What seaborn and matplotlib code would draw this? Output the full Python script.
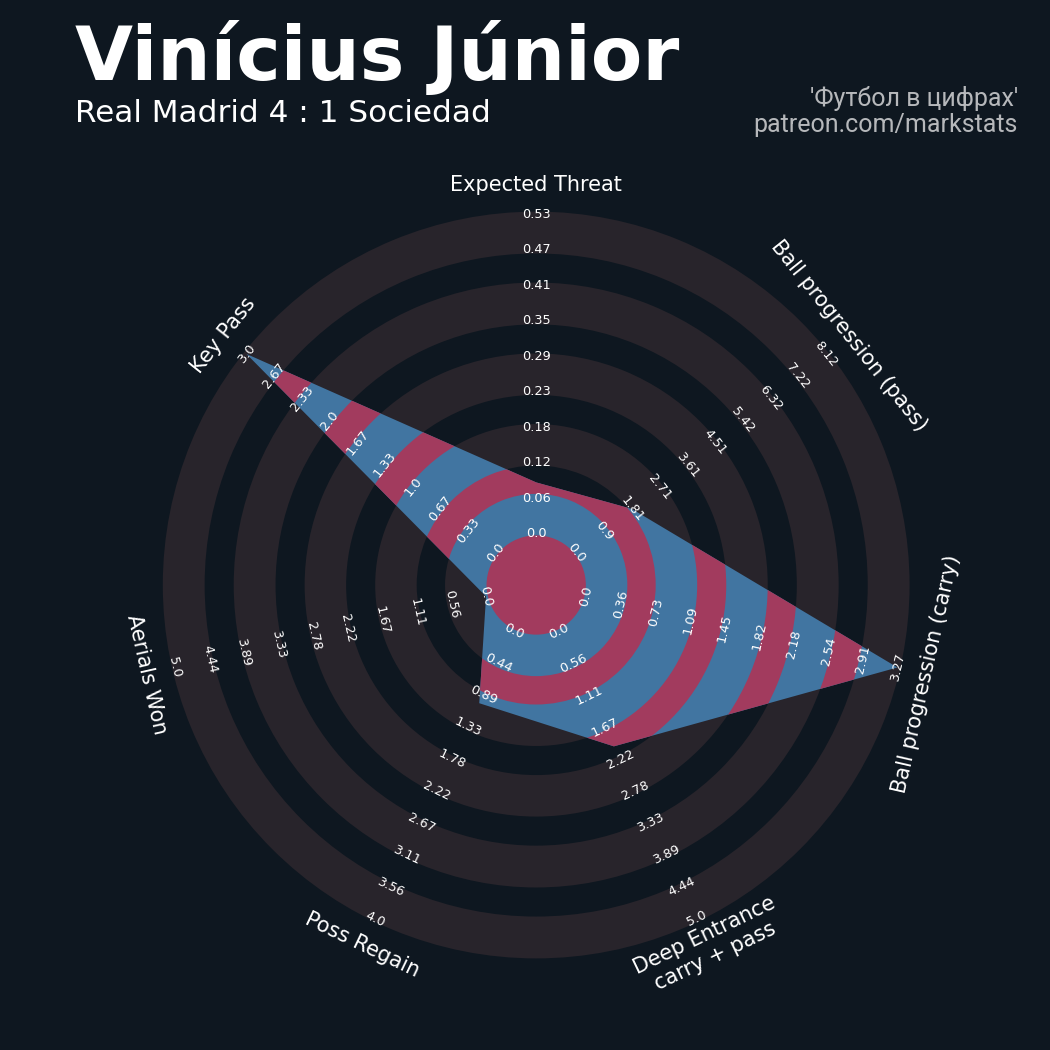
import numpy as np
import matplotlib
matplotlib.use("Agg")
import matplotlib.pyplot as plt
import seaborn as sns
from matplotlib.patches import Wedge, Circle, Polygon

# data
params = ["Expected Threat", "Ball progression (pass)", "Ball progression (carry)",
          "Deep Entrance\ncarry + pass", "Poss Regain", "Aerials Won", "Key Pass"]
player_values = [0.085, 1.8, 3.27, 2.0, 1.0, 0.0, 3.0]

xt_ticks = ["0.0", "0.06", "0.12", "0.18", "0.23", "0.29", "0.35", "0.41", "0.47", "0.53"]
prog_pass_ticks = ["0.0", "0.9", "1.81", "2.71", "3.61", "4.51", "5.42", "6.32", "7.22", "8.12"]
prog_carry_ticks = ["0.0", "0.36", "0.73", "1.09", "1.45", "1.82", "2.18", "2.54", "2.91", "3.27"]
deep_ticks = ["0.0", "0.56", "1.11", "1.67", "2.22", "2.78", "3.33", "3.89", "4.44", "5.0"]
regain_ticks = ["0.0", "0.44", "0.89", "1.33", "1.78", "2.22", "2.67", "3.11", "3.56", "4.0"]
aerial_ticks = ["0.0", "0.56", "1.11", "1.67", "2.22", "2.78", "3.33", "3.89", "4.44", "5.0"]
keypass_ticks = ["0.0", "0.33", "0.67", "1.0", "1.33", "1.67", "2.0", "2.33", "2.67", "3.0"]
tick_labels = [xt_ticks, prog_pass_ticks, prog_carry_ticks, deep_ticks,
               regain_ticks, aerial_ticks, keypass_ticks]

title = "Vinícius Júnior"
subtitle = "Real Madrid 4 : 1 Sociedad"
credit = "'Футбол в цифрах'\npatreon.com/markstats"

# style
bg = "#0e1720"
ring_col = "#28242b"
poly_col = "#4175a1"
inner_col = "#a23b5e"

sns.set_theme(style="dark", rc={"figure.facecolor": bg, "axes.facecolor": bg,
                                "text.color": "white", "savefig.facecolor": bg})
plt.rcParams["font.family"] = ["DejaVu Sans"]

center_r = 1.45      # radius where the range starts
n_steps = 9          # label steps
grey_rings = [(1.40, 2.57), (3.37, 4.54), (5.36, 6.53), (7.35, 8.53), (9.35, 10.53)]
dark_rings = [(2.57, 3.37), (4.54, 5.36), (6.53, 7.35), (8.53, 9.35)]


def text_rot(theta):
    rot = (theta - 90 + 180) % 360 - 180
    if rot < -90:
        rot += 180
    elif rot > 90:
        rot -= 180
    return rot


fig = plt.figure(figsize=(10.5, 10.5), dpi=100)
ax = fig.add_axes([0.1054, 0.0376, 0.8105, 0.8105])
ax.set_xlim(-12, 12)
ax.set_ylim(-12, 12)
ax.set_aspect("equal")
ax.axis("off")

for r0, r1 in grey_rings:
    ax.add_patch(Wedge((0, 0), r1, 0, 360, width=r1 - r0, facecolor=ring_col,
                       edgecolor="none", zorder=1))

n = len(params)
angles = 90 - np.arange(n) * 360 / n
rad = np.deg2rad(angles)
maxes = [float(t[-1]) for t in tick_labels]
radii = [center_r + n_steps * v / m for v, m in zip(player_values, maxes)]
pts = np.column_stack([np.cos(rad) * radii, np.sin(rad) * radii])

poly = Polygon(pts, closed=True, facecolor=poly_col, edgecolor="none", zorder=2)
ax.add_patch(poly)

inner = [Circle((0, 0), grey_rings[0][0])]
for r0, r1 in dark_rings:
    inner.append(Wedge((0, 0), r1, 0, 360, width=r1 - r0))
for p in inner:
    p.set_facecolor(inner_col)
    p.set_edgecolor("none")
    p.set_zorder(3)
    ax.add_patch(p)
    p.set_clip_path(poly)

# range labels
for i in range(n):
    rot = text_rot(angles[i])
    for k, lab in enumerate(tick_labels[i]):
        r = center_r + k
        ax.text(np.cos(rad[i]) * r, np.sin(rad[i]) * r, lab, rotation=rot,
                rotation_mode="anchor", ha="center", va="center",
                fontsize=9.3, color="white", zorder=5)

# parameter labels
for i in range(n):
    r = 11.28
    ax.text(np.cos(rad[i]) * r, np.sin(rad[i]) * r, params[i],
            rotation=text_rot(angles[i]), rotation_mode="anchor",
            ha="center", va="center", fontsize=15, color="white",
            multialignment="center", zorder=5)

fig.text(0.0714, 1 - 80 / 1050, title, fontsize=54, fontweight="bold",
         color="white", ha="left", va="baseline")
fig.text(0.0714, 1 - 122 / 1050, subtitle, fontsize=22.4, color="white",
         ha="left", va="baseline")
fig.text(0.9695, 1 - 132 / 1050, credit, fontsize=18, color="#b6b8bb",
         ha="right", va="baseline", family=["Roboto", "DejaVu Sans"],
         multialignment="right", linespacing=1.12)

fig.savefig("out.png", dpi=100, facecolor=bg)
